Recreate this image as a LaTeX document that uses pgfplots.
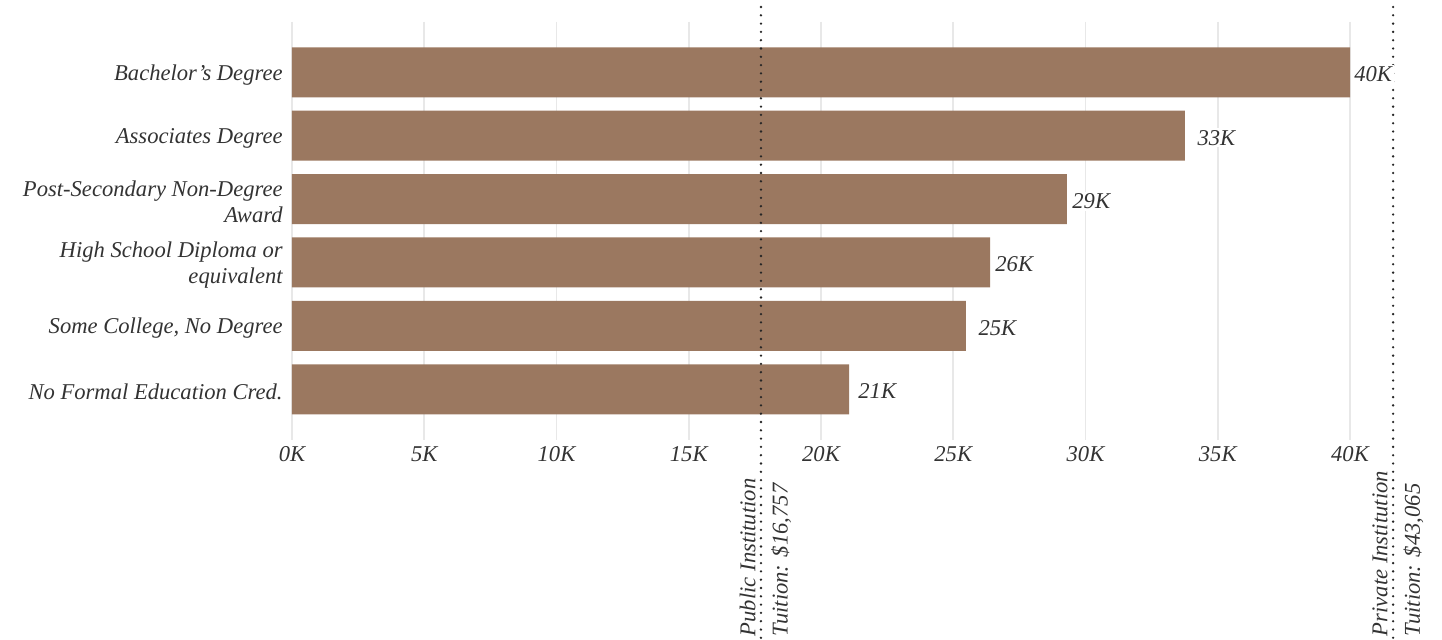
\documentclass[border=0pt]{standalone}
\usepackage{fontspec}
\setmainfont{Liberation Serif}
\usepackage{pgfplots}
\pgfplotsset{compat=1.18}
\definecolor{barc}{RGB}{155,120,96}
\definecolor{txt}{RGB}{51,51,51}
\definecolor{gridc}{RGB}{232,232,232}
\newcommand{\lab}{\itshape\fontsize{11.3}{13.2}\selectfont\color{txt}}
\begin{document}
\begin{tikzpicture}
\useasboundingbox (0,0) rectangle (721pt,319.5pt);
\begin{axis}[
  at={(146pt,99.5pt)}, anchor=south west,
  scale only axis, width=562.06pt, height=209.22pt,
  xmin=0, xmax=42.5, ymin=-0.8, ymax=5.8, y dir=reverse,
  clip=false,
  axis line style={draw=none},
  major tick length=0pt,
  xmajorgrids, grid style={color=gridc, line width=0.8pt},
  xtick={0,5,10,15,20,25,30,35,40},
  xticklabels={0K,5K,10K,15K,20K,25K,30K,35K,40K},
  ytick={0,1,2,3,4,5},
  yticklabels={Bachelor’s Degree, Associates Degree, {Post-Secondary Non-Degree\\Award}, {High School Diploma or\\equivalent}, {Some College, No Degree}, No Formal Education Cred.},
  xticklabel style={font=\lab, inner sep=0pt, yshift=-3pt},
  yticklabel style={font=\lab, align=right, inner sep=0pt, xshift=-4.5pt, yshift=-1.2pt},
]
\addplot[xbar, bar shift=0pt, bar width=25pt, fill=barc, draw=none]
  coordinates {(40.0,0) (33.76,1) (29.30,2) (26.39,3) (25.48,4) (21.06,5)};
\addplot[color=black!85, line width=1.3pt, line cap=round, dash pattern=on 0pt off 4.15pt]
  coordinates {(17.73,-1.03) (17.73,9)};
\addplot[color=black!85, line width=1.3pt, line cap=round, dash pattern=on 0pt off 4.15pt]
  coordinates {(41.63,-1.03) (41.63,9)};
\addplot[xbar, bar shift=0pt, bar width=25pt, draw=none, fill=none,
  point meta=explicit symbolic,
  nodes near coords={\pgfplotspointmeta},
  nodes near coords style={font=\lab, anchor=west, fill=white, inner sep=1pt, xshift=-1pt, yshift=-1pt}]
  coordinates {(40.15,0) [40K] (34.22,1) [33K] (29.49,2) [29K] (26.58,3) [26K] (25.94,4) [25K] (21.40,5) [21K]};
\node[font=\lab, xshift=-2.5pt, rotate=90, anchor=south west, inner sep=0pt] at (axis cs:17.73,8.9) {Public Institution};
\node[font=\lab, xshift=5pt, rotate=90, anchor=north west, inner sep=0pt] at (axis cs:17.73,8.9) {Tuition: \$16,757};
\node[font=\lab, xshift=-2.5pt, rotate=90, anchor=south west, inner sep=0pt] at (axis cs:41.63,8.9) {Private Institution};
\node[font=\lab, xshift=5pt, rotate=90, anchor=north west, inner sep=0pt] at (axis cs:41.63,8.9) {Tuition: \$43,065};
\end{axis}
\end{tikzpicture}
\end{document}
